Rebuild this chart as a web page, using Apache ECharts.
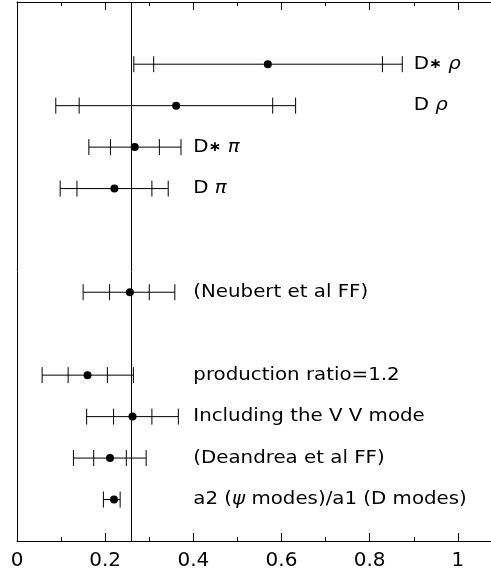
<!DOCTYPE html>
<html>
<head>
<meta charset="utf-8">
<script src="https://cdn.jsdelivr.net/npm/echarts@6/dist/echarts.min.js"></script>
<style>
  html, body { margin: 0; padding: 0; background: #fff; }
  #chart { width: 491px; height: 578px; }
</style>
</head>
<body>
<div id="chart"></div>
<script>
// measurements, top row first
const labels = [
  'D{s|\u2217} {g|\u03c1}', 'D {g|\u03c1}', 'D{s|\u2217} {g|\u03c0}', 'D {g|\u03c0}',
  '(Neubert et al FF)',
  'production ratio=1.2', 'Including the V V mode',
  '(Deandrea et al FF)', 'a2 ({g|\u03c8} modes)/a1 (D modes)'
];
const rowY    = [11.5, 10.5, 9.5, 8.5, 6, 4, 3, 2, 1];
const central = [0.569, 0.361, 0.267, 0.221, 0.256, 0.160, 0.262, 0.211, 0.220];
const outerLo = [0.265, 0.088, 0.163, 0.098, 0.150, 0.057, 0.158, 0.128, 0.196];
const outerHi = [0.874, 0.632, 0.372, 0.343, 0.358, 0.264, 0.366, 0.293, 0.234];
const innerLo = [0.310, 0.141, 0.212, 0.136, 0.210, 0.116, 0.219, 0.174, null];
const innerHi = [0.829, 0.580, 0.323, 0.306, 0.300, 0.205, 0.306, 0.248, null];
const labelX  = [0.9, 0.9, 0.4, 0.4, 0.4, 0.4, 0.4, 0.4, 0.4];
const refLine = 0.255;

const font = 'DejaVu Sans';
const capHalf = 8;

const chart = echarts.init(document.getElementById('chart'));

const barData = rowY.map((y, i) => [outerLo[i], outerHi[i], y, innerLo[i], innerHi[i]]);
const dotData = rowY.map((y, i) => [central[i], y]);
const textData = rowY.map((y, i) => [labelX[i], y, i]);

const xCommon = {
  type: 'value',
  min: 0,
  max: 1.2,
  interval: 0.2,
  axisLine: { show: true, onZero: false, lineStyle: { color: '#000', width: 1 } },
  axisTick: { show: true, inside: true, length: 8, lineStyle: { color: '#000' } },
  minorTick: { show: true, splitNumber: 2, length: 4, lineStyle: { color: '#000' } },
  splitLine: { show: false },
  minorSplitLine: { show: false }
};

chart.setOption({
  animation: false,
  // axis runs past the right edge, as in the original figure
  grid: { left: 17, width: 529, top: 2, bottom: 37, outerBoundsMode: 'none', containLabel: false },
  xAxis: [
    Object.assign({}, xCommon, {
      position: 'bottom',
      axisLabel: {
        color: '#000', fontSize: 20, fontFamily: font, margin: 10,
        showMaxLabel: false,
        formatter: v => String(+v.toFixed(1))
      }
    }),
    Object.assign({}, xCommon, {
      position: 'top',
      axisLabel: { show: false }
    })
  ],
  yAxis: {
    type: 'value',
    min: 0,
    max: 13,
    axisLine: { show: true, onZero: false, lineStyle: { color: '#000', width: 1 } },
    axisTick: { show: false },
    axisLabel: { show: false },
    splitLine: { show: false }
  },
  series: [
    {
      type: 'custom',
      data: barData,
      renderItem: (params, api) => {
        const y = api.value(2);
        const lo = api.coord([api.value(0), y]);
        const hi = api.coord([api.value(1), y]);
        const kids = [{
          type: 'line',
          shape: { x1: lo[0], y1: lo[1], x2: hi[0], y2: hi[1] },
          style: { stroke: '#000', lineWidth: 1 }
        }];
        [api.value(0), api.value(1), api.value(3), api.value(4)].forEach(v => {
          if (v == null || isNaN(v)) return;
          const p = api.coord([v, y]);
          kids.push({
            type: 'line',
            shape: { x1: p[0], y1: p[1] - capHalf, x2: p[0], y2: p[1] + capHalf },
            style: { stroke: '#000', lineWidth: 1 }
          });
        });
        return { type: 'group', children: kids };
      }
    },
    {
      type: 'scatter',
      data: dotData,
      symbol: 'circle',
      symbolSize: 8,
      itemStyle: { color: '#000', opacity: 1 },
      markLine: {
        silent: true,
        symbol: 'none',
        label: { show: false },
        lineStyle: { color: '#000', width: 1, type: 'solid' },
        data: [{ xAxis: refLine }]
      }
    },
    {
      type: 'custom',
      data: textData,
      renderItem: (params, api) => {
        const p = api.coord([api.value(0), api.value(1)]);
        return {
          type: 'text',
          x: p[0],
          y: p[1],
          scaleX: 1.1,
          style: {
            text: labels[api.value(2)],
            fontSize: 18,
            fontFamily: font,
            fill: '#000',
            align: 'left',
            verticalAlign: 'middle',
            rich: {
              g: { fontSize: 18, fontFamily: font, fontStyle: 'italic', fill: '#000' },
              s: { fontSize: 14, fontFamily: font, fontWeight: 'bold', fill: '#000' }
            }
          }
        };
      }
    }
  ]
});
</script>
</body>
</html>
